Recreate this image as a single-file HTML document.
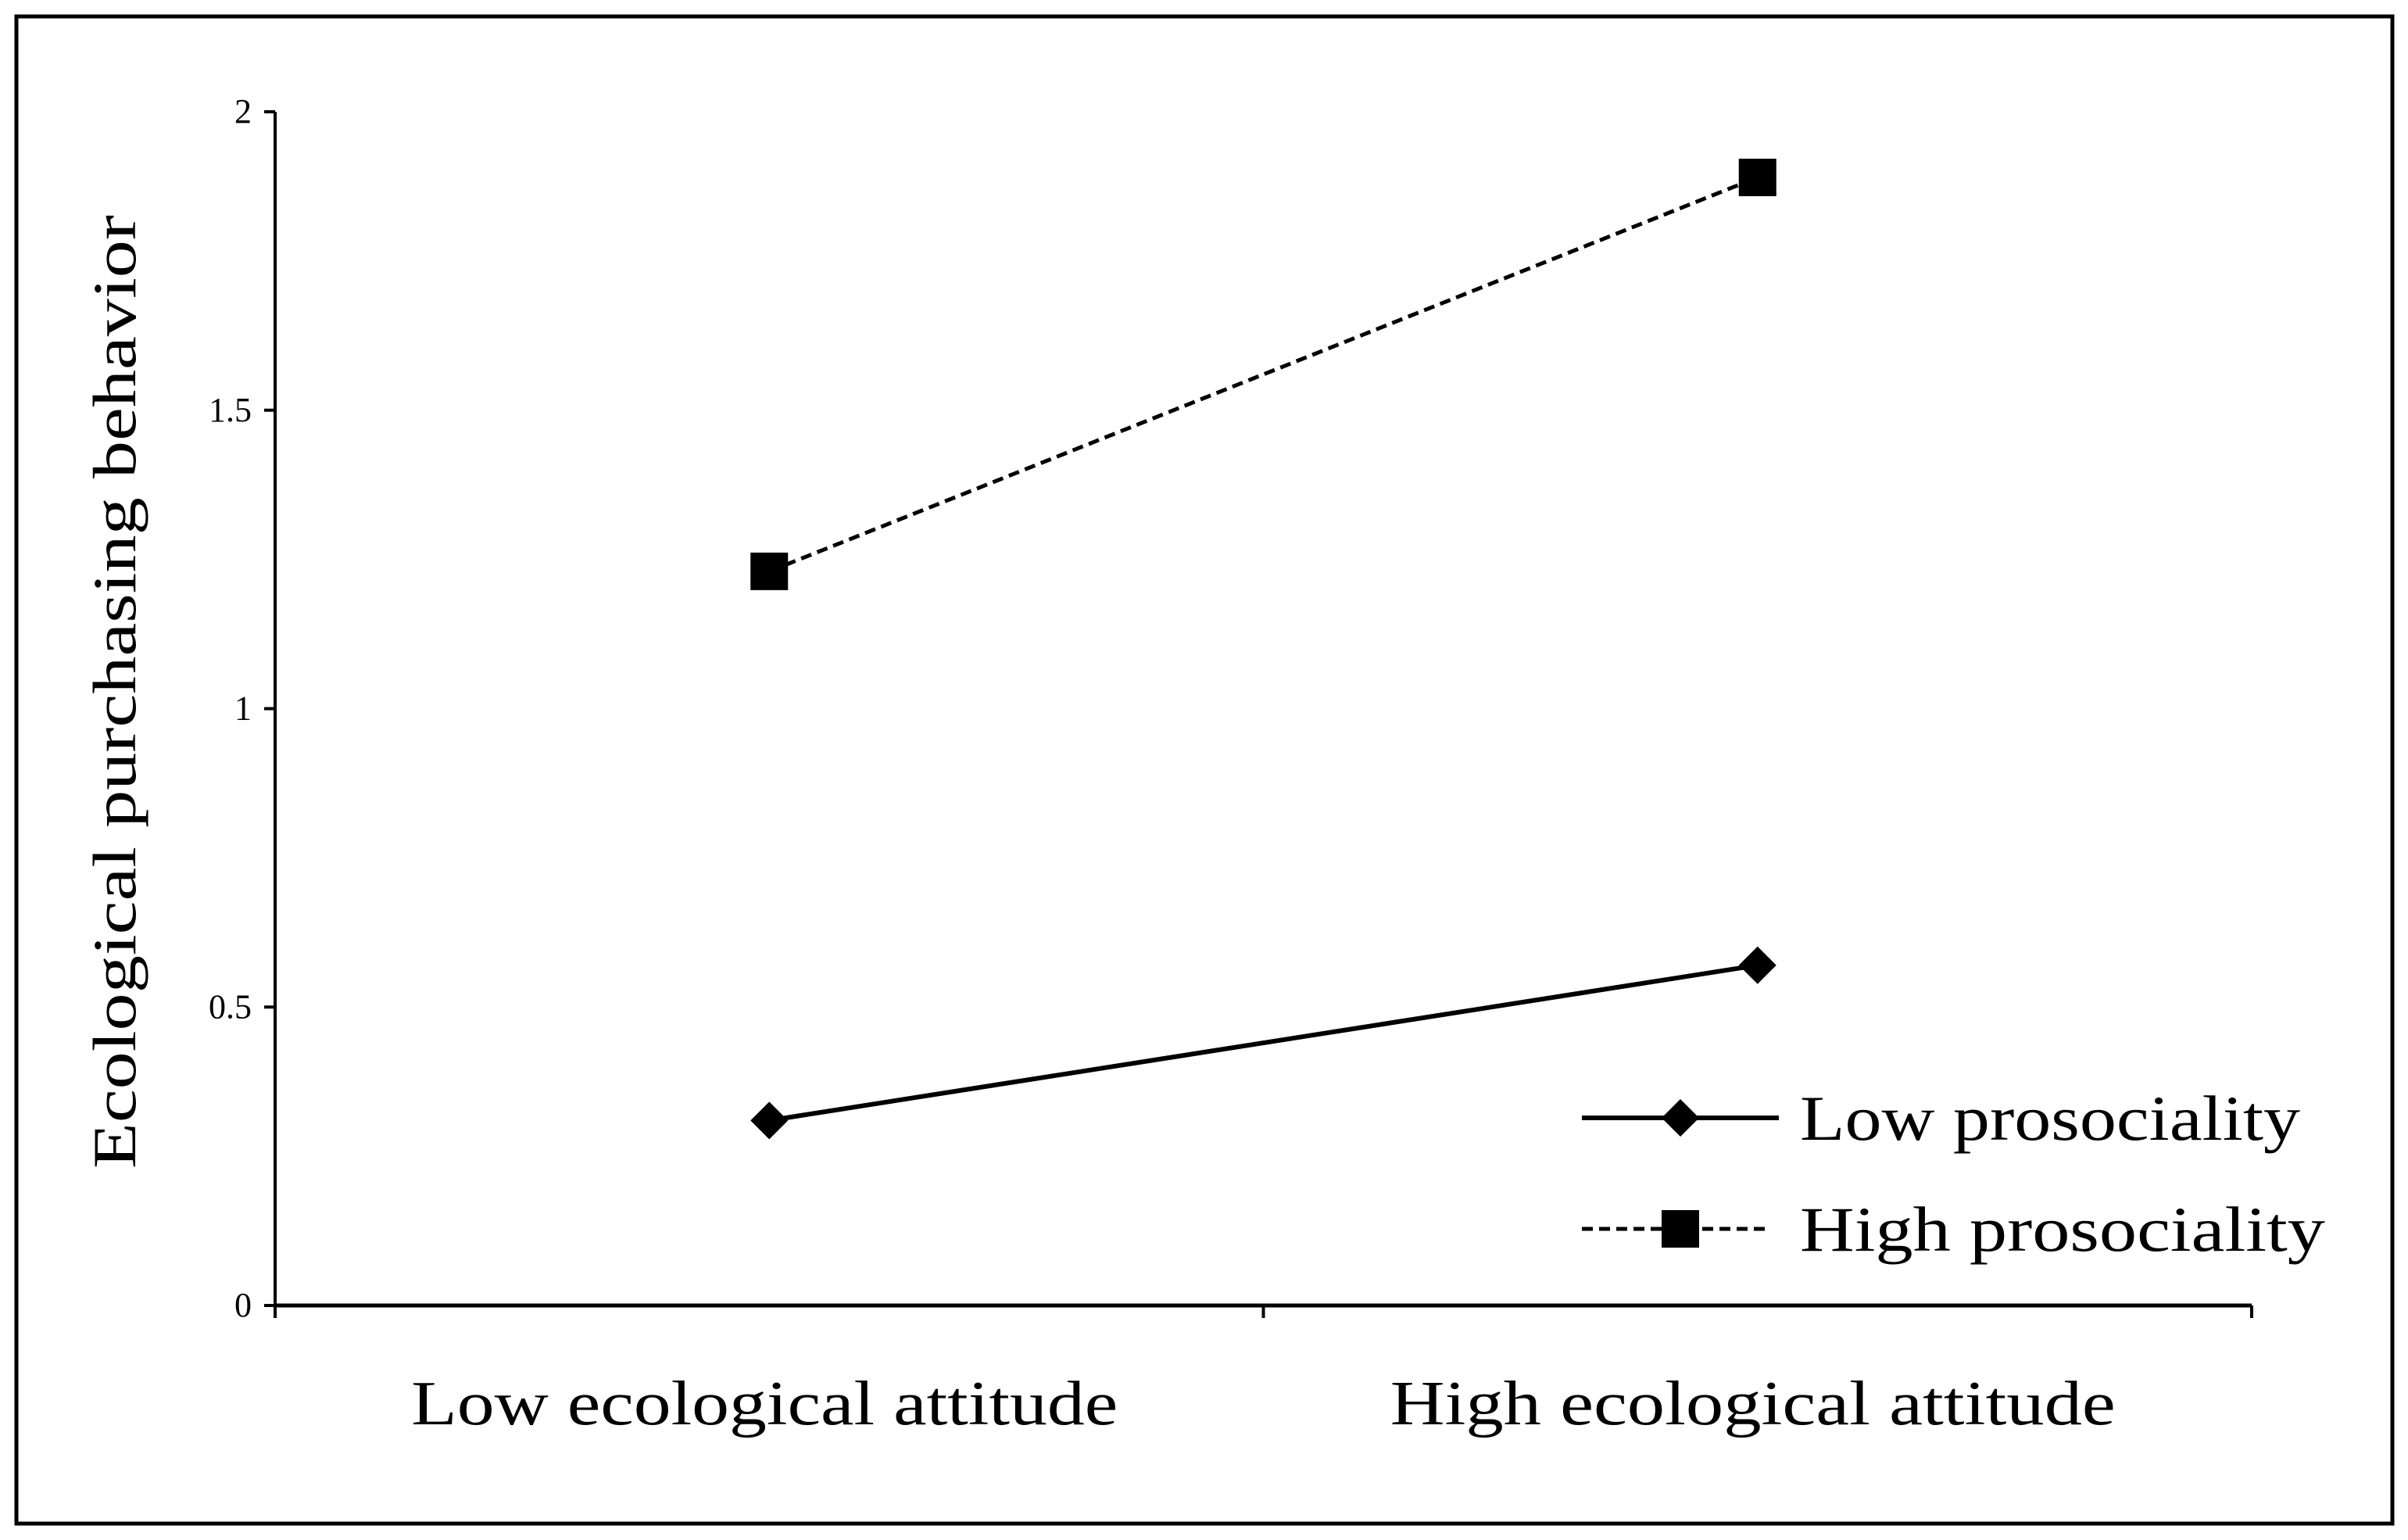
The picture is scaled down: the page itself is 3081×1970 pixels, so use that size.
<!DOCTYPE html>
<html><head><meta charset="utf-8"><style>
html,body{margin:0;padding:0;background:#fff;}
svg{display:block;}
text{font-family:"Liberation Serif",serif;fill:#000;}
</style></head><body>
<svg id="chart" width="3081" height="1970" viewBox="0 0 3081 1970" xmlns="http://www.w3.org/2000/svg">
<rect x="21" y="21" width="3040" height="1928" fill="#fff" stroke="#000" stroke-width="5"/>
<g id="axes"></g>
<g id="series"></g>
<g id="legend"></g>
<text transform="translate(173,885) rotate(-90)" text-anchor="middle" font-size="78" textLength="1220" lengthAdjust="spacingAndGlyphs">Ecological purchasing behavior</text>
</svg>
<script>
const categories = ["Low ecological attitude", "High ecological attitude"];
const lowProsociality = [0.31, 0.57];
const highProsociality = [1.23, 1.89];
const yTicks = [0, 0.5, 1, 1.5, 2];
const yTickLabels = ["0", "0.5", "1", "1.5", "2"];
const seriesNames = ["Low prosociality", "High prosociality"];

const NS = "http://www.w3.org/2000/svg";
const X0 = 352, X1 = 2881, Y0 = 1670, Y1 = 143;
function yScale(v){ return Y0 - (v - 0) / (2 - 0) * (Y0 - Y1); }
function xScale(i){ const band = (X1 - X0) / categories.length; return X0 + band * (i + 0.5); }
function mk(tag, attrs, parent){ const e = document.createElementNS(NS, tag); for (const k in attrs) e.setAttribute(k, attrs[k]); parent.appendChild(e); return e; }

const axes = document.getElementById('axes');
let yl = mk('line', {x1:X0, y1:Y1, x2:X0, y2:Y0, stroke:'#000', 'stroke-width':4}, axes);


let xl = mk('line', {x1:X0, y1:Y0, x2:X1, y2:Y0, stroke:'#000', 'stroke-width':5}, axes);


yTicks.forEach((t, i) => {
  const y = yScale(t);
  const tk = mk('line', {x1:X0 - 14, y1:y, x2:X0, y2:y, stroke:'#000', 'stroke-width':4}, axes);
  
  
  const lb = mk('text', {x:X0 - 30, y:y + 14, 'text-anchor':'end', 'font-size':44}, axes);
  
  
  lb.textContent = yTickLabels[i];
});
const band = (X1 - X0) / categories.length;
for (let i = 0; i <= categories.length; i++) {
  const x = X0 + band * i;
  const tk = mk('line', {x1:x, y1:Y0, x2:x, y2:Y0 + 16, stroke:'#000', 'stroke-width':4}, axes);
  
  
}
categories.forEach((c, i) => {
  const lb = mk('text', {x:xScale(i) - 6, y:1822, 'text-anchor':'middle', 'font-size':80, textLength: i === 0 ? 904 : 928, lengthAdjust:'spacingAndGlyphs'}, axes);
  
  
  lb.textContent = c;
});

const series = document.getElementById('series');
function diamond(cx, cy, r, parent){ return mk('polygon', {points:`${cx},${cy-r} ${cx+r},${cy} ${cx},${cy+r} ${cx-r},${cy}`, fill:'#000'}, parent); }
function square(cx, cy, r, parent){ return mk('rect', {x:cx-r, y:cy-r, width:2*r, height:2*r, fill:'#000'}, parent); }

const lowLine = mk('polyline', {points: lowProsociality.map((v,i)=>`${xScale(i)},${yScale(v)}`).join(' '), fill:'none', stroke:'#000', 'stroke-width':6}, series);


const highLine = mk('polyline', {points: highProsociality.map((v,i)=>`${xScale(i)},${yScale(v)}`).join(' '), fill:'none', stroke:'#000', 'stroke-width':5, 'stroke-dasharray':'14 8'}, series);


lowProsociality.forEach((v, i) => {
  const m = diamond(xScale(i), yScale(v), 24, series);
  
  
});
highProsociality.forEach((v, i) => {
  const m = square(xScale(i), yScale(v), 24, series);
  
  
});

const legend = document.getElementById('legend');
const ly = [1430, 1572];
const lw = [640, 672];
seriesNames.forEach((n, i) => {
  const g = mk('g', {}, legend);
  
  
  if (i === 0) {
    mk('line', {x1:2024, y1:ly[i], x2:2276, y2:ly[i], stroke:'#000', 'stroke-width':6}, g);
    diamond(2150, ly[i], 24, g);
  } else {
    mk('line', {x1:2024, y1:ly[i], x2:2264, y2:ly[i], stroke:'#000', 'stroke-width':5, 'stroke-dasharray':'14 8'}, g);
    square(2150, ly[i], 24, g);
  }
  const t = mk('text', {x:2303, y:ly[i] + 28, 'font-size':82, textLength:lw[i], lengthAdjust:'spacingAndGlyphs'}, g);
  t.textContent = n;
});
</script>
</body></html>
